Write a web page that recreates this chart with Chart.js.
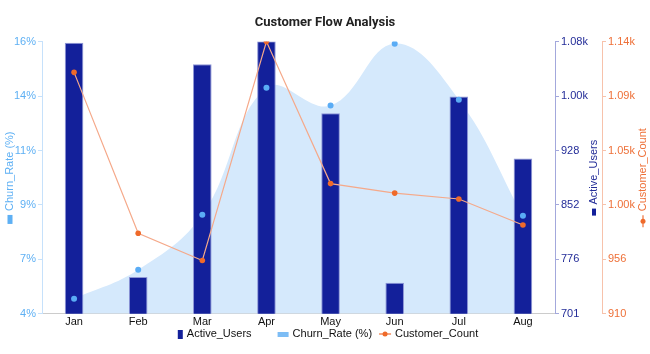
<!DOCTYPE html>
<html>
<head>
<meta charset="utf-8">
<script src="https://cdn.jsdelivr.net/npm/chart.js@4.4.0/dist/chart.umd.min.js"></script>
<style>
    html, body { margin: 0; padding: 0; background: #fff; }
    #wrap { width: 650px; height: 354px; }
</style>
</head>
<body>
<div id="wrap"><canvas id="flowChart" width="650" height="354"></canvas></div>
<script>
const months = ['Jan', 'Feb', 'Mar', 'Apr', 'May', 'Jun', 'Jul', 'Aug'];
const activeUsers = [1078, 752, 1048, 1080, 980, 744, 1003, 917];
const churnRate = [4.86, 6.14, 8.57, 14.17, 13.38, 16.11, 13.64, 8.52];
const customerCount = [1114, 978, 955, 1140, 1020, 1012, 1007, 985];

// axis ranges (6 evenly spaced ticks each)
const churnRange = [4.2, 16.2];
const activeRange = [700.6, 1079.6];
const customerRange = [910, 1140];

const barColor = '#13209a';
const churnFill = '#d5e9fc';
const churnPoint = '#5aacf5';
const churnAxis = '#5eb0f4';
const activeAxis = '#232c98';
const customerLine = '#f5a98a';
const customerPoint = '#ef6a2a';
const customerAxis = '#ee7038';
const fontFamily = '"Liberation Sans", Arial, sans-serif';

function evenTicks(range) {
    return function (scale) {
        const step = (range[1] - range[0]) / 5;
        scale.ticks = [0, 1, 2, 3, 4, 5].map(i => ({ value: range[0] + i * step }));
    };
}

function kFormat(v) {
    return v >= 999.5 ? (v / 1000).toFixed(2) + 'k' : Math.round(v).toString();
}

// rotated axis titles with a small series marker in front
const axisTitles = {
    id: 'axisTitles',
    afterDraw(chart) {
        const ctx = chart.ctx;
        const area = chart.chartArea;
        const midY = (area.top + area.bottom) / 2;
        const items = [
            { x: chart.scales.yChurn.left + 10, text: 'Churn_Rate (%)', color: churnAxis, marker: 'churn' },
            { x: chart.scales.yActive.right - 8, text: 'Active_Users', color: activeAxis, marker: 'active' },
            { x: chart.scales.yCustomer.right - 7, text: 'Customer_Count', color: customerAxis, marker: 'customer' }
        ];
        ctx.save();
        ctx.font = '11px ' + fontFamily;
        items.forEach(item => {
            const markerLen = item.marker === 'customer' ? 12 : (item.marker === 'churn' ? 9 : 7);
            const gap = 4;
            const textW = ctx.measureText(item.text).width;
            const total = markerLen + gap + textW;
            ctx.save();
            ctx.translate(item.x, midY);
            ctx.rotate(-Math.PI / 2);
            const start = -total / 2;
            if (item.marker === 'churn') {
                ctx.fillStyle = churnAxis;
                ctx.fillRect(start, -2.5, markerLen, 5);
            } else if (item.marker === 'active') {
                ctx.fillStyle = barColor;
                ctx.fillRect(start, -2, markerLen, 4);
            } else {
                ctx.strokeStyle = customerAxis;
                ctx.lineWidth = 1.2;
                ctx.beginPath();
                ctx.moveTo(start, 0);
                ctx.lineTo(start + markerLen, 0);
                ctx.stroke();
                ctx.fillStyle = customerPoint;
                ctx.beginPath();
                ctx.arc(start + markerLen / 2, 0, 2.5, 0, Math.PI * 2);
                ctx.fill();
            }
            ctx.fillStyle = item.color;
            ctx.textAlign = 'left';
            ctx.textBaseline = 'middle';
            ctx.fillText(item.text, start + markerLen + gap, 0);
            ctx.restore();
        });
        ctx.restore();
    }
};

// bottom legend, drawn by hand to get the marker shapes
const bottomLegend = {
    id: 'bottomLegend',
    afterDraw(chart) {
        const ctx = chart.ctx;
        const y = 334;
        const items = [
            { text: 'Active_Users', marker: 'active', w: 5, after: 26 },
            { text: 'Churn_Rate (%)', marker: 'churn', w: 11, after: 7 },
            { text: 'Customer_Count', marker: 'customer', w: 12, after: 0 }
        ];
        ctx.save();
        ctx.font = '11px ' + fontFamily;
        let total = 0;
        items.forEach(it => {
            it.tw = ctx.measureText(it.text).width;
            total += it.w + 4 + it.tw + it.after;
        });
        let x = 328 - total / 2;
        items.forEach(it => {
            if (it.marker === 'active') {
                ctx.fillStyle = barColor;
                ctx.fillRect(x, y - 4, it.w, 9);
            } else if (it.marker === 'churn') {
                ctx.fillStyle = '#7dbdf5';
                ctx.fillRect(x, y - 2, it.w, 5);
            } else {
                ctx.strokeStyle = customerAxis;
                ctx.lineWidth = 1.2;
                ctx.beginPath();
                ctx.moveTo(x, y);
                ctx.lineTo(x + it.w, y);
                ctx.stroke();
                ctx.fillStyle = customerPoint;
                ctx.beginPath();
                ctx.arc(x + it.w / 2, y, 2.5, 0, Math.PI * 2);
                ctx.fill();
            }
            x += it.w + 4;
            ctx.fillStyle = '#111';
            ctx.textAlign = 'left';
            ctx.textBaseline = 'middle';
            ctx.fillText(it.text, x, y);
            x += it.tw + it.after;
        });
        ctx.restore();
    }
};

const config = {
    type: 'bar',
    data: {
        labels: months,
        datasets: [{
            type: 'bar',
            label: 'Active_Users',
            data: activeUsers,
            yAxisID: 'yActive',
            backgroundColor: barColor,
            borderColor: '#8e96d6',
            borderWidth: 1,
            barPercentage: 0.29,
            categoryPercentage: 1,
            order: 2
        }, {
            type: 'line',
            label: 'Churn_Rate (%)',
            data: churnRate,
            yAxisID: 'yChurn',
            fill: 'start',
            backgroundColor: churnFill,
            borderColor: 'rgba(0,0,0,0)',
            borderWidth: 0,
            tension: 0.4,
            pointRadius: 3,
            pointBorderWidth: 0,
            pointBackgroundColor: churnPoint,
            order: 1
        }, {
            type: 'line',
            label: 'Customer_Count',
            data: customerCount,
            yAxisID: 'yCustomer',
            fill: false,
            borderColor: customerLine,
            borderWidth: 1.2,
            tension: 0,
            pointRadius: 2.8,
            pointBorderWidth: 0,
            pointBackgroundColor: customerPoint,
            order: 0
        }]
    },
    options: {
        responsive: false,
        animation: false,
        devicePixelRatio: 1,
        layout: { padding: { left: 0, right: 0, top: 0, bottom: 23 } },
        plugins: {
            legend: { display: false },
            tooltip: { enabled: false },
            filler: { drawTime: 'beforeDatasetsDraw' },
            title: {
                display: true,
                text: 'Customer Flow Analysis',
                color: '#222',
                font: { family: 'Roboto', size: 13, weight: 'bold' },
                padding: { top: 15, bottom: 11 }
            }
        },
        scales: {
            x: {
                grid: { display: false, drawTicks: false },
                border: { color: '#cccccc' },
                ticks: { color: '#111', font: { family: fontFamily, size: 11 }, padding: 2 }
            },
            yChurn: {
                type: 'linear',
                position: 'left',
                min: churnRange[0],
                max: churnRange[1],
                afterBuildTicks: evenTicks(churnRange),
                afterFit: s => { s.width = 42; },
                grid: { drawOnChartArea: false, color: '#c6e1fb', tickLength: 4 },
                border: { color: '#c6e1fb' },
                ticks: {
                    color: churnAxis, padding: 2,
                    font: { family: fontFamily, size: 11 },
                    callback: v => Math.round(v) + '%'
                }
            },
            yActive: {
                type: 'linear',
                position: 'right',
                min: activeRange[0],
                max: activeRange[1],
                afterBuildTicks: evenTicks(activeRange),
                afterFit: s => { s.width = 47; },
                grid: { drawOnChartArea: false, color: '#a3a8dc', tickLength: 4 },
                border: { color: '#a3a8dc' },
                ticks: {
                    color: activeAxis, padding: 2,
                    font: { family: fontFamily, size: 11 },
                    callback: kFormat
                }
            },
            yCustomer: {
                type: 'linear',
                position: 'right',
                min: customerRange[0],
                max: customerRange[1],
                afterBuildTicks: evenTicks(customerRange),
                afterFit: s => { s.width = 48; },
                grid: { drawOnChartArea: false, color: '#f7c2ab', tickLength: 4 },
                border: { color: '#f7c2ab' },
                ticks: {
                    color: customerAxis, padding: 2,
                    font: { family: fontFamily, size: 11 },
                    callback: kFormat
                }
            }
        }
    },
    plugins: [axisTitles, bottomLegend]
};

const ctx = document.getElementById('flowChart').getContext('2d');
const flowChart = new Chart(ctx, config);
</script>
</body>
</html>
